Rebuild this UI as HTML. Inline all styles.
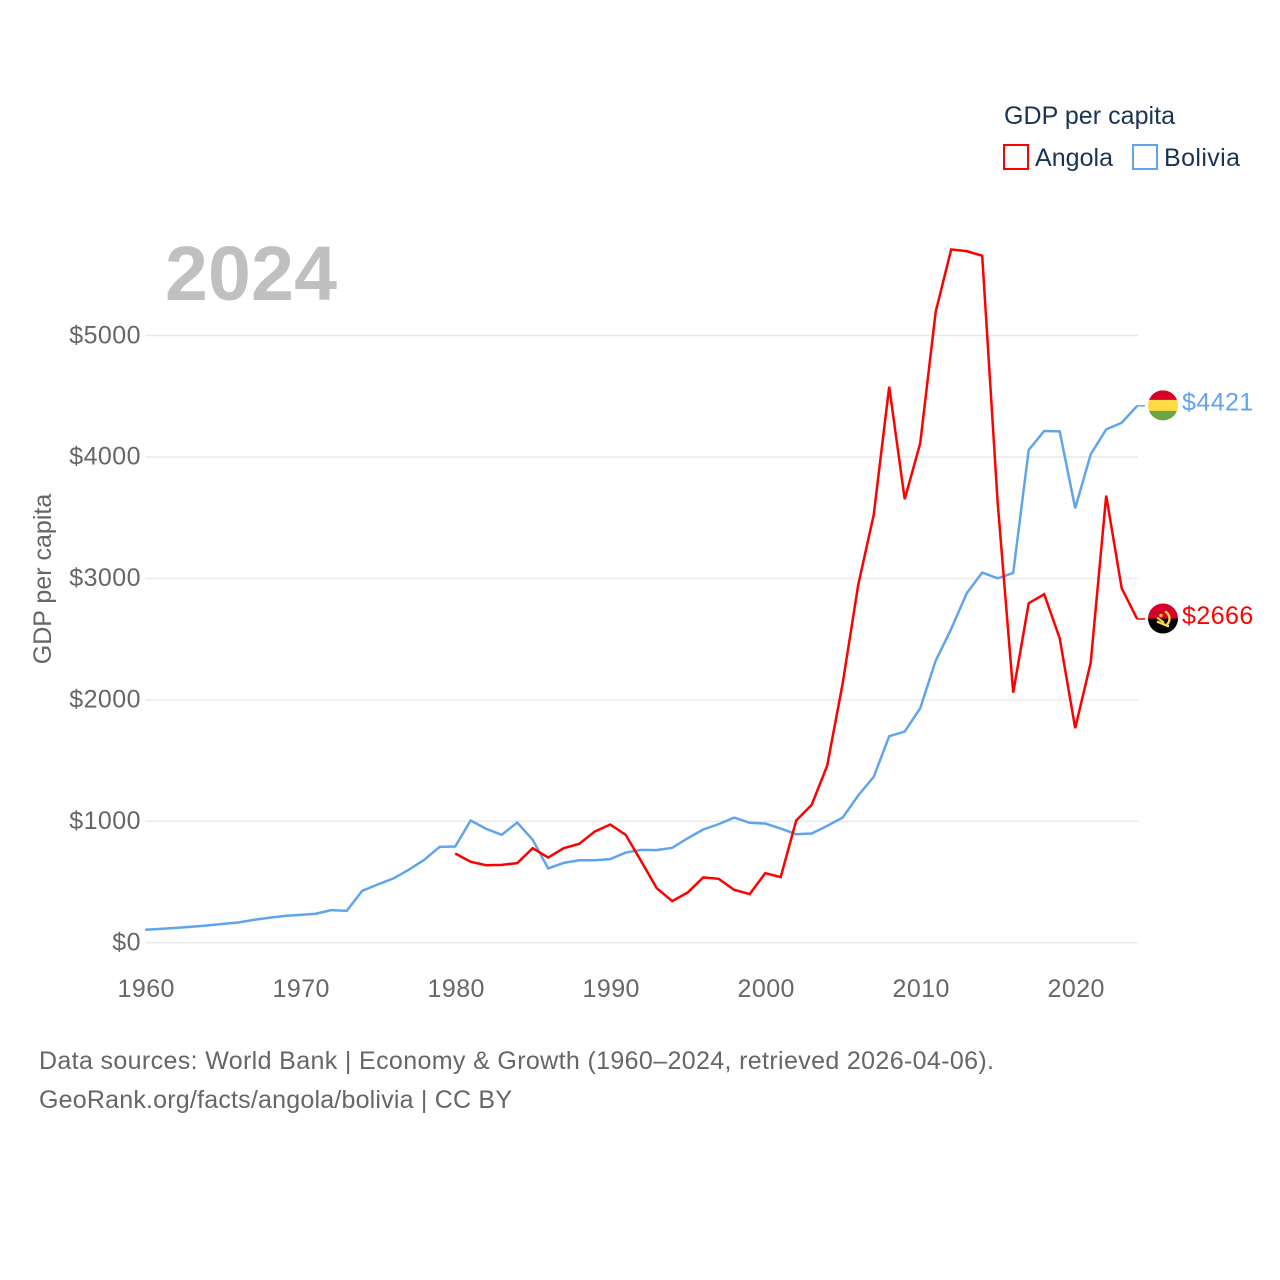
<!DOCTYPE html>
<html lang="en">
<head>
<meta charset="utf-8">
<title>GDP per capita: Angola and Bolivia</title>
<style>
html,body{margin:0;padding:0;background:#fff;}
svg{display:block;font-family:"Liberation Sans",sans-serif;}
.tick{font-size:25px;fill:#666;letter-spacing:.45px;}
.legend{font-size:25px;fill:#1a3353;}
.foot{font-size:25px;fill:#666;}
</style>
</head>
<body>
<svg id="chart" xmlns="http://www.w3.org/2000/svg" width="1280" height="1280" viewBox="0 0 1280 1280">
  <rect width="1280" height="1280" fill="#fff"/>
  <g id="grid"></g>
  <g id="yticks"></g>
  <g id="xticks"></g>
  <text x="165" y="300" font-size="77" font-weight="700" fill="#c0c0c0" textLength="172" lengthAdjust="spacing">2024</text>
  <text transform="translate(51,579) rotate(-90)" text-anchor="middle" font-size="25" fill="#666">GDP per capita</text>
  <g id="series"></g>

  <g>
    <text class="legend" x="1004" y="124" textLength="171" lengthAdjust="spacing">GDP per capita</text>
    <rect x="1004" y="145" width="24" height="24" fill="none" stroke="#ff0000" stroke-width="2"/>
    <text class="legend" x="1035" y="166" textLength="78" lengthAdjust="spacing">Angola</text>
    <rect x="1133" y="145" width="24" height="24" fill="none" stroke="#60a5ec" stroke-width="2"/>
    <text class="legend" x="1164" y="166" textLength="76" lengthAdjust="spacing">Bolivia</text>
  </g>

  <defs>
    <clipPath id="flagClip"><circle cx="0" cy="0" r="15"/></clipPath>
  </defs>
  <g id="flag-bolivia">
    <g clip-path="url(#flagClip)">
      <rect x="-15" y="-15" width="30" height="30" fill="#ffda44"/>
      <rect x="-15" y="-15" width="30" height="9.5" fill="#d80027"/>
      <rect x="-15" y="5.5" width="30" height="10" fill="#6da544"/>
    </g>
  </g>
  <g id="flag-angola">
    <g clip-path="url(#flagClip)">
      <rect x="-15" y="-15" width="30" height="15" fill="#d80027"/>
      <rect x="-15" y="0" width="30" height="15" fill="#000"/>
    </g>
    <path d="M2 -7 A8 8 0 0 1 4 6" fill="none" stroke="#ffda44" stroke-width="2.4"/>
    <path d="M-6 3 L6 8" stroke="#ffda44" stroke-width="2.4" fill="none"/>
    <path d="M-6 -1 L1 4" stroke="#ffda44" stroke-width="2" fill="none"/>
    <circle cx="-2" cy="-3" r="1.7" fill="#ffda44"/>
  </g>
  <text id="label-bolivia" x="1182" font-size="25" fill="#60a5ec" letter-spacing=".45"></text>
  <text id="label-angola" x="1182" font-size="25" fill="#ff0000" letter-spacing=".45"></text>

  <text class="foot" x="39" y="1069" textLength="955" lengthAdjust="spacing">Data sources: World Bank | Economy &amp; Growth (1960–2024, retrieved 2026-04-06).</text>
  <text class="foot" x="39" y="1108" textLength="473" lengthAdjust="spacing">GeoRank.org/facts/angola/bolivia | CC BY</text>
</svg>
<script>
const years = [1960,1961,1962,1963,1964,1965,1966,1967,1968,1969,1970,1971,1972,1973,1974,1975,1976,1977,1978,1979,1980,1981,1982,1983,1984,1985,1986,1987,1988,1989,1990,1991,1992,1993,1994,1995,1996,1997,1998,1999,2000,2001,2002,2003,2004,2005,2006,2007,2008,2009,2010,2011,2012,2013,2014,2015,2016,2017,2018,2019,2020,2021,2022,2023,2024];
const boliviaValues = [107,115,123,132,142,156,167,189,206,222,230,239,269,263,428,480,529,601,683,790,793,1007,938,889,990,848,612,658,680,680,689,743,765,763,782,861,933,977,1031,988,982,941,894,900,963,1031,1213,1366,1701,1739,1931,2323,2584,2878,3048,3001,3045,4058,4214,4211,3578,4022,4228,4282,4421];
const angolaValues = [null,null,null,null,null,null,null,null,null,null,null,null,null,null,null,null,null,null,null,null,735,667,639,642,656,779,702,779,815,916,974,889,672,450,343,414,538,527,436,401,573,541,1007,1136,1459,2137,2946,3523,4579,3652,4113,5196,5709,5695,5657,3621,2060,2796,2870,2508,1767,2307,3682,2919,2666];
const yTickValues = [0,1000,2000,3000,4000,5000];
const yTickLabels = ["$0","$1000","$2000","$3000","$4000","$5000"];
const xTickValues = [1960,1970,1980,1990,2000,2010,2020];
const xTickLabels = ["1960","1970","1980","1990","2000","2010","2020"];

const NS = "http://www.w3.org/2000/svg";
const xScale = function (yr) { return 145.2 + (yr - 1960) * 15.5; };
const yScale = function (v) { return 942.8 - v * 0.12145; };
const STUB_END = 1145;

const gridGroup = document.getElementById("grid");
const yGroup = document.getElementById("yticks");
const xGroup = document.getElementById("xticks");
const seriesGroup = document.getElementById("series");

yTickValues.forEach(function (v, i) {
  const line = document.createElementNS(NS, "line");
  
  
  line.setAttribute("x1", xScale(1960));
  line.setAttribute("x2", xScale(2024) + 0.8);
  line.setAttribute("y1", yScale(v));
  line.setAttribute("y2", yScale(v));
  line.setAttribute("stroke", "#e9e9e9");
  line.setAttribute("stroke-width", "1.5");
  gridGroup.appendChild(line);

  const label = document.createElementNS(NS, "text");
  
  
  label.setAttribute("class", "tick");
  label.setAttribute("x", 141);
  label.setAttribute("y", yScale(v) + 7.7);
  label.setAttribute("text-anchor", "end");
  label.textContent = yTickLabels[i];
  yGroup.appendChild(label);
});

xTickValues.forEach(function (yr, i) {
  const label = document.createElementNS(NS, "text");
  
  
  label.setAttribute("class", "tick");
  label.setAttribute("x", xScale(yr) + 1);
  label.setAttribute("y", 997);
  label.setAttribute("text-anchor", "middle");
  label.textContent = xTickLabels[i];
  xGroup.appendChild(label);
});

function linePoints(values) {
  const pts = [];
  values.forEach(function (v, i) {
    if (v !== null) {
      pts.push(xScale(years[i]).toFixed(2) + "," + yScale(v).toFixed(2));
    }
  });
  return pts.join(" ");
}

function stubPoints(values) {
  const last = values[values.length - 1];
  return xScale(2024).toFixed(2) + "," + yScale(last).toFixed(2) + " " + STUB_END + "," + yScale(last).toFixed(2);
}

const boliviaLine = document.createElementNS(NS, "polyline");


boliviaLine.setAttribute("points", linePoints(boliviaValues));
boliviaLine.setAttribute("fill", "none");
boliviaLine.setAttribute("stroke", "#60a5ec");
boliviaLine.setAttribute("stroke-width", "2.5");
seriesGroup.appendChild(boliviaLine);

const boliviaStub = document.createElementNS(NS, "polyline");


boliviaStub.setAttribute("points", stubPoints(boliviaValues));
boliviaStub.setAttribute("fill", "none");
boliviaStub.setAttribute("stroke", "#60a5ec");
boliviaStub.setAttribute("stroke-width", "1.5");
seriesGroup.appendChild(boliviaStub);

const angolaLine = document.createElementNS(NS, "polyline");


angolaLine.setAttribute("points", linePoints(angolaValues));
angolaLine.setAttribute("fill", "none");
angolaLine.setAttribute("stroke", "#ff0000");
angolaLine.setAttribute("stroke-width", "2.5");
seriesGroup.appendChild(angolaLine);

const angolaStub = document.createElementNS(NS, "polyline");


angolaStub.setAttribute("points", stubPoints(angolaValues));
angolaStub.setAttribute("fill", "none");
angolaStub.setAttribute("stroke", "#ff0000");
angolaStub.setAttribute("stroke-width", "1.5");
seriesGroup.appendChild(angolaStub);

const boliviaLast = boliviaValues[boliviaValues.length - 1];
const angolaLast = angolaValues[angolaValues.length - 1];
document.getElementById("flag-bolivia").setAttribute("transform", "translate(1163," + (yScale(boliviaLast) - 0.5) + ")");
document.getElementById("flag-angola").setAttribute("transform", "translate(1163," + (yScale(angolaLast) - 0.5) + ")");
const boliviaLabel = document.getElementById("label-bolivia");
boliviaLabel.setAttribute("y", yScale(boliviaLast) + 4.5);
boliviaLabel.textContent = "$" + boliviaLast;
const angolaLabel = document.getElementById("label-angola");
angolaLabel.setAttribute("y", yScale(angolaLast) + 5);
angolaLabel.textContent = "$" + angolaLast;
</script>
</body>
</html>
